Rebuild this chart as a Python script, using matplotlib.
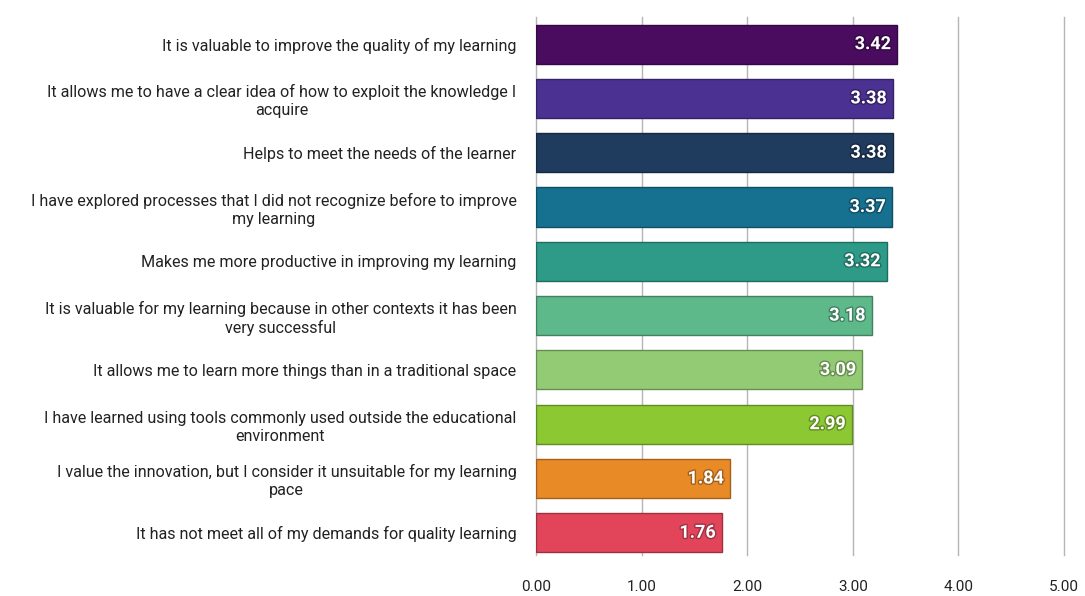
import matplotlib.pyplot as plt
import matplotlib.patheffects as pe
import matplotlib.colors as mcolors

# ---------------------------------------------------------------------------
# Data: mean agreement score per statement (top to bottom)
# ---------------------------------------------------------------------------
statements = [
    "It is valuable to improve the quality of my learning",
    "It allows me to have a clear idea of how to exploit the knowledge I\nacquire",
    "Helps to meet the needs of the learner",
    "I have explored processes that I did not recognize before to improve\nmy learning",
    "Makes me more productive in improving my learning",
    "It is valuable for my learning because in other contexts it has been\nvery successful",
    "It allows me to learn more things than in a traditional space",
    "I have learned using tools commonly used outside the educational\nenvironment",
    "I value the innovation, but I consider it unsuitable for my learning\npace",
    "It has not meet all of my demands for quality learning",
]
scores = [3.42, 3.38, 3.38, 3.37, 3.32, 3.18, 3.09, 2.99, 1.84, 1.76]
bar_colors = ["#4a0c5e", "#4a3192", "#1f3b5e", "#16708f", "#2e9b88",
              "#5db88a", "#93cb74", "#8cc832", "#e88a26", "#e2455a"]
x_ticks = [0, 1, 2, 3, 4, 5]

plt.rcParams["font.family"] = ["Roboto", "DejaVu Sans"]

fig = plt.figure(figsize=(10.85, 5.96), dpi=100)
ax = fig.add_axes([536 / 1085, 1 - 555 / 596, 528 / 1085, 538 / 596])

ypos = list(range(len(scores)))
edge_colors = [tuple(c * 0.7 for c in mcolors.to_rgb(col)) for col in bar_colors]
ax.barh(ypos, scores, height=0.72, color=bar_colors,
        edgecolor=edge_colors, linewidth=1.0, zorder=3)

# value labels sit inside the end of each bar
for y, v, ec in zip(ypos, scores, edge_colors):
    ax.text(v - 0.06, y, f"{v:.2f}", ha="right", va="center",
            color="white", fontsize=13, fontweight="bold", zorder=4,
            path_effects=[pe.withStroke(linewidth=2, foreground=ec)])

ax.set_xlim(0, 5)
ax.set_ylim(9.41, -0.5)
ax.set_xticks(x_ticks)
ax.set_xticklabels([f"{t:.2f}" for t in x_ticks], fontsize=11, color="#222222")
ax.set_yticks(ypos)
ax.set_yticklabels(statements, fontsize=11.6, color="#222222",
                   multialignment="center", linespacing=1.25)
ax.tick_params(axis="both", length=0)
ax.tick_params(axis="x", pad=18)
ax.tick_params(axis="y", pad=14)

ax.grid(axis="x", color="#b5b5b5", linewidth=1.0, zorder=0)
for gl in ax.get_xgridlines():
    gl.set_clip_on(False)
ax.set_axisbelow(True)
for s in ax.spines.values():
    s.set_visible(False)

fig.savefig("out.png", dpi=100)
